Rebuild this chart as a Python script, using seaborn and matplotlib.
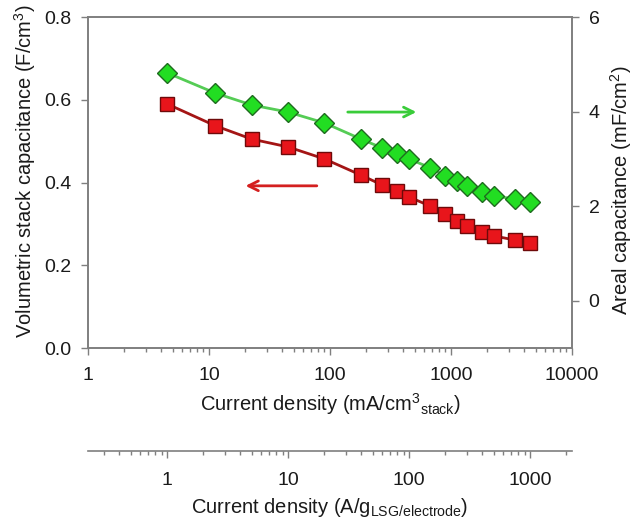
import numpy as np
import pandas as pd
import matplotlib
matplotlib.use("Agg")
import matplotlib.pyplot as plt
import seaborn as sns

# Current density (mA/cm^3 of stack)
current_density = [4.5, 11.3, 22.5, 45, 90, 180, 270, 360, 450, 675, 900,
                   1125, 1350, 1800, 2250, 3375, 4500]
# Volumetric stack capacitance (F/cm^3)
volumetric_cap = [0.590, 0.537, 0.505, 0.486, 0.457, 0.418, 0.394, 0.379,
                  0.365, 0.343, 0.324, 0.307, 0.295, 0.280, 0.271, 0.261, 0.254]
# Areal capacitance (mF/cm^2)
areal_cap = [4.82, 4.39, 4.14, 3.99, 3.76, 3.42, 3.23, 3.12, 3.00, 2.81, 2.64,
             2.53, 2.43, 2.30, 2.22, 2.15, 2.09]

left_ticks = [0.0, 0.2, 0.4, 0.6, 0.8]
right_ticks = [0, 2, 4, 6]
bottom_ticks = [1, 10, 100, 1000, 10000]
gravimetric_ticks = [1, 10, 100, 1000]
# mA/cm^3 per A/g of LSG electrode
conv = 4.5

df = pd.DataFrame({"j": current_density, "vol": volumetric_cap, "areal": areal_cap})

sns.set_style("ticks")
plt.rcParams["font.family"] = ["Liberation Sans", "DejaVu Sans"]
plt.rcParams["mathtext.fontset"] = "custom"
plt.rcParams["mathtext.rm"] = "Liberation Sans"
plt.rcParams["mathtext.it"] = "Liberation Sans"

spine_c = "#7f7f7f"
text_c = "#1a1a1a"
tick_fs = 14
label_fs = 14.5

fig = plt.figure(figsize=(6.36, 5.22), dpi=100)
ax = fig.add_axes([0.1384, 0.3333, 0.7610, 0.6341])
ax2 = ax.twinx()

sns.lineplot(data=df, x="j", y="areal", ax=ax2, color="#55cc55", lw=2.0,
             marker="D", markersize=10, markerfacecolor="#22dd22",
             markeredgecolor="#1e6b1e", markeredgewidth=1.0, zorder=3)
sns.lineplot(data=df, x="j", y="vol", ax=ax, color="#a41515", lw=2.0,
             marker="s", markersize=9.5, markerfacecolor="#e8151b",
             markeredgecolor="#6e0a0a", markeredgewidth=1.0, zorder=3)

ax.set_xscale("log")
ax.set_xlim(1, 10000)
ax.set_ylim(0, 0.8)
ax2.set_ylim(-1, 6)
ax.set_xticks(bottom_ticks)
ax.set_xticklabels([str(t) for t in bottom_ticks])
ax.set_yticks(left_ticks)
ax.set_yticklabels([f"{t:.1f}" for t in left_ticks])
ax2.set_yticks(right_ticks)
ax2.set_yticklabels([str(t) for t in right_ticks])

ax.set_xlabel(r"Current density (mA/cm$^3$$_{\mathregular{stack}}$)", fontsize=label_fs,
              color=text_c, labelpad=5)
ax.set_ylabel(r"Volumetric stack capacitance (F/cm$^3$)", fontsize=label_fs,
              color=text_c)
ax2.set_ylabel(r"Areal capacitance (mF/cm$^2$)", fontsize=label_fs, color=text_c)
ax.yaxis.set_label_coords(-0.104, 0.535)
ax2.yaxis.set_label_coords(1.074, 0.478)

for a in (ax, ax2):
    for s in a.spines.values():
        s.set_color(spine_c)
        s.set_linewidth(1.2)
    a.tick_params(which="both", colors=spine_c, labelcolor=text_c,
                  labelsize=tick_fs, direction="out")
    a.tick_params(which="major", length=5, width=1.0, pad=7)
    a.tick_params(which="minor", length=3, width=1.0)
ax.tick_params(axis="y", which="minor", left=False)
ax2.tick_params(axis="y", which="minor", right=False)
ax.tick_params(axis="x", which="major", pad=9)

# direction arrows pointing to each curve's axis
ax.annotate("", xy=(19, 0.392), xytext=(82, 0.392), xycoords="data",
            arrowprops=dict(arrowstyle="->,head_length=0.7,head_width=0.35",
                            color="#d42020", lw=2.0))
ax2.annotate("", xy=(545, 3.99), xytext=(133, 3.99), xycoords="data",
             arrowprops=dict(arrowstyle="->,head_length=0.7,head_width=0.35",
                             color="#3acc3a", lw=2.0))

# gravimetric current density scale
sec = ax.secondary_xaxis(-0.311, functions=(lambda x: x / conv, lambda x: x * conv))
sec.set_xticks(gravimetric_ticks)
sec.set_xticklabels([str(t) for t in gravimetric_ticks])
sec.spines["bottom"].set_color(spine_c)
sec.spines["bottom"].set_linewidth(1.2)
sec.tick_params(which="both", colors=spine_c, labelcolor=text_c,
                labelsize=tick_fs, direction="out")
sec.tick_params(which="major", length=5, width=1.0, pad=10)
sec.tick_params(which="minor", length=3, width=1.0)
sec.set_xlabel(r"Current density (A/g$_{\mathregular{LSG/electrode}}$)",
               fontsize=label_fs, color=text_c, labelpad=5)

fig.savefig("out.png", dpi=100)
